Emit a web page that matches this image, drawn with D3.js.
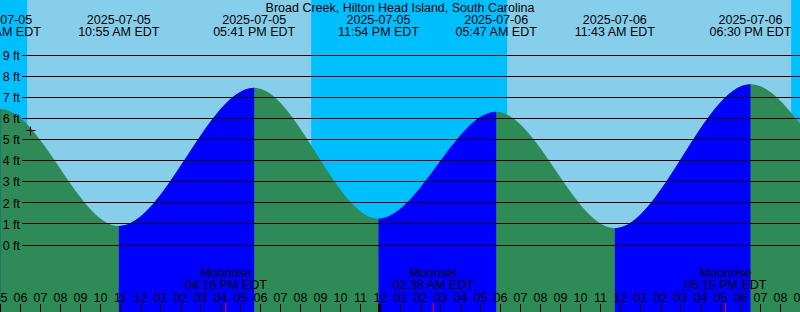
<!DOCTYPE html>
<html lang="en">
    <head>
        <meta charset="utf-8">
        <title>Broad Creek tides</title>
        <script type="text/javascript" src="https://d3js.org/d3.v7.min.js"></script>
        <style type="text/css">
            body { margin: 0; background: #87ceeb; }
            svg { display: block; }
            text { font-family: "Liberation Sans", Arial, sans-serif; font-size: 12.5px; fill: #000; }
        </style>
    </head>
    <body>
        <script type="text/javascript">
            var w = 800;
            var h = 312;

            var title = "Broad Creek, Hilton Head Island, South Carolina";

            // high / low water, first and last ones lie outside the window
            var tideTimes = ["2025-07-04 22:50", "2025-07-05 04:59", "2025-07-05 10:55", "2025-07-05 17:41",
                             "2025-07-05 23:54", "2025-07-06 05:47", "2025-07-06 11:43", "2025-07-06 18:30",
                             "2025-07-07 00:55", "2025-07-07 07:05"];
            var tideLevels = [1.3, 6.45, 0.90, 7.46, 1.25, 6.32, 0.80, 7.63, 1.95, 6.2];

            var sunsetTimes = ["2025-07-04 20:32", "2025-07-05 20:32", "2025-07-06 20:32"];
            var sunriseTimes = ["2025-07-05 06:20", "2025-07-06 06:20", "2025-07-07 06:21"];

            var moonTimes = ["2025-07-05 16:16", "2025-07-06 02:38", "2025-07-06 17:15"];
            var moonKinds = ["Moonrise", "Moonset", "Moonrise"];

            var ftTicks = [0, 1, 2, 3, 4, 5, 6, 7, 8, 9];

            var nowTime = "2025-07-05 06:30";
            var nowLevel = 5.45;

            var parse = d3.timeParse("%Y-%m-%d %H:%M");
            var fmtDate = d3.timeFormat("%Y-%m-%d");
            var fmtTime = d3.timeFormat("%I:%M %p EDT");
            var fmtHour = d3.timeFormat("%I");

            var t0 = parse("2025-07-05 05:00");
            var t1 = parse("2025-07-06 21:00");

            var x = d3.scaleTime().domain([t0, t1]).range([0.5, 800.5]);
            var y = d3.scaleLinear().domain([0, 9]).range([245, 55.3]);

            var tides = tideTimes.map(function(d, i) {
                return { t: parse(d), v: tideLevels[i] };
            });

            var svg = d3.select("body")
                        .append("svg")
                        .attr("width", w)
                        .attr("height", h);

            // day / night
            svg.append("rect")
               .attr("width", w).attr("height", h)
               .attr("fill", "#87ceeb");

            svg.selectAll("rect.night")
               .data(sunsetTimes)
               .enter()
               .append("rect")
               .attr("class", "night")
               .attr("x", function(d) { return x(parse(d)); })
               .attr("y", 0)
               .attr("width", function(d, i) { return x(parse(sunriseTimes[i])) - x(parse(d)); })
               .attr("height", h)
               .attr("fill", "#00bfff");

            // tide curve
            var area = d3.area()
                         .x(function(d) { return x(d.t); })
                         .y0(h)
                         .y1(function(d) { return y(d.v); })
                         .curve(d3.curveMonotoneX);

            // rising stretches (low -> high) are blue
            var rising = [];
            for (var i = 0; i < tides.length - 1; i++) {
                if (tides[i + 1].v > tides[i].v) rising.push([tides[i].t, tides[i + 1].t]);
            }

            var clip = svg.append("defs").append("clipPath").attr("id", "rise");
            clip.selectAll("rect")
                .data(rising)
                .enter()
                .append("rect")
                .attr("x", function(d) { return x(d[0]); })
                .attr("y", 0)
                .attr("width", function(d) { return x(d[1]) - x(d[0]); })
                .attr("height", h);

            svg.append("path")
               .datum(tides)
               .attr("d", area)
               .attr("fill", "#2e8b57");

            svg.append("path")
               .datum(tides)
               .attr("d", area)
               .attr("fill", "#0000ff")
               .attr("clip-path", "url(#rise)");

            // feet lines
            svg.selectAll("line.ft")
               .data(ftTicks)
               .enter()
               .append("line")
               .attr("class", "ft")
               .attr("x1", 22).attr("x2", w)
               .attr("y1", function(d) { return Math.floor(y(d)) + 0.5; })
               .attr("y2", function(d) { return Math.floor(y(d)) + 0.5; })
               .attr("stroke", "#000")
               .attr("shape-rendering", "crispEdges");

            svg.selectAll("text.ft")
               .data(ftTicks)
               .enter()
               .append("text")
               .attr("class", "ft")
               .attr("x", 20)
               .attr("y", function(d) { return y(d) + 4.7; })
               .attr("text-anchor", "end")
               .text(function(d) { return d + " ft"; });

            // hour axis
            var hours = d3.timeHour.range(t0, d3.timeHour.offset(t1, 1));

            svg.selectAll("rect.tick")
               .data(hours)
               .enter()
               .append("rect")
               .attr("class", "tick")
               .attr("x", function(d) { return d.getHours() == 0 ? Math.floor(x(d)) - 2 : Math.floor(x(d)); })
               .attr("y", 304)
               .attr("width", function(d) { return d.getHours() == 0 ? 3 : 1; })
               .attr("height", 8)
               .attr("fill", "#000");

            svg.selectAll("text.hour")
               .data(hours)
               .enter()
               .append("text")
               .attr("class", "hour")
               .attr("x", function(d) { return x(d); })
               .attr("y", 301.5)
               .attr("text-anchor", "middle")
               .text(function(d) { return fmtHour(d); });

            // moon events
            var moon = svg.selectAll("g.moon")
                          .data(moonTimes)
                          .enter()
                          .append("g")
                          .attr("class", "moon")
                          .attr("transform", function(d) { return "translate(" + x(parse(d)) + ",0)"; });

            moon.append("rect")
                .attr("x", -0.5).attr("y", 303)
                .attr("width", 1).attr("height", 9)
                .attr("fill", "#ff0000");

            moon.append("text")
                .attr("y", 277)
                .attr("text-anchor", "middle")
                .text(function(d, i) { return moonKinds[i]; });

            moon.append("text")
                .attr("y", 289)
                .attr("text-anchor", "middle")
                .text(function(d) { return fmtTime(parse(d)); });

            // high / low labels along the top
            var shown = tides.filter(function(d) { return d.t >= d3.timeMinute.offset(t0, -5) && d.t <= t1; });

            svg.selectAll("text.tdate")
               .data(shown)
               .enter()
               .append("text")
               .attr("class", "tdate")
               .attr("x", function(d) { return x(d.t); })
               .attr("y", 24)
               .attr("text-anchor", "middle")
               .text(function(d) { return fmtDate(d.t); });

            svg.selectAll("text.ttime")
               .data(shown)
               .enter()
               .append("text")
               .attr("class", "ttime")
               .attr("x", function(d) { return x(d.t); })
               .attr("y", 36)
               .attr("text-anchor", "middle")
               .text(function(d) { return fmtTime(d.t); });

            svg.append("text")
               .attr("x", w / 2)
               .attr("y", 12)
               .attr("text-anchor", "middle")
               .text(title);

            // current time mark
            var cx = Math.round(x(parse(nowTime))) + 0.5;
            var cy = Math.round(y(nowLevel)) + 0.5;
            svg.append("path")
               .attr("d", "M" + (cx - 4) + "," + cy + "H" + (cx + 5) + "M" + cx + "," + (cy - 4) + "V" + (cy + 5))
               .attr("stroke", "#000")
               .attr("fill", "none");
        </script>
    </body>
</html>
